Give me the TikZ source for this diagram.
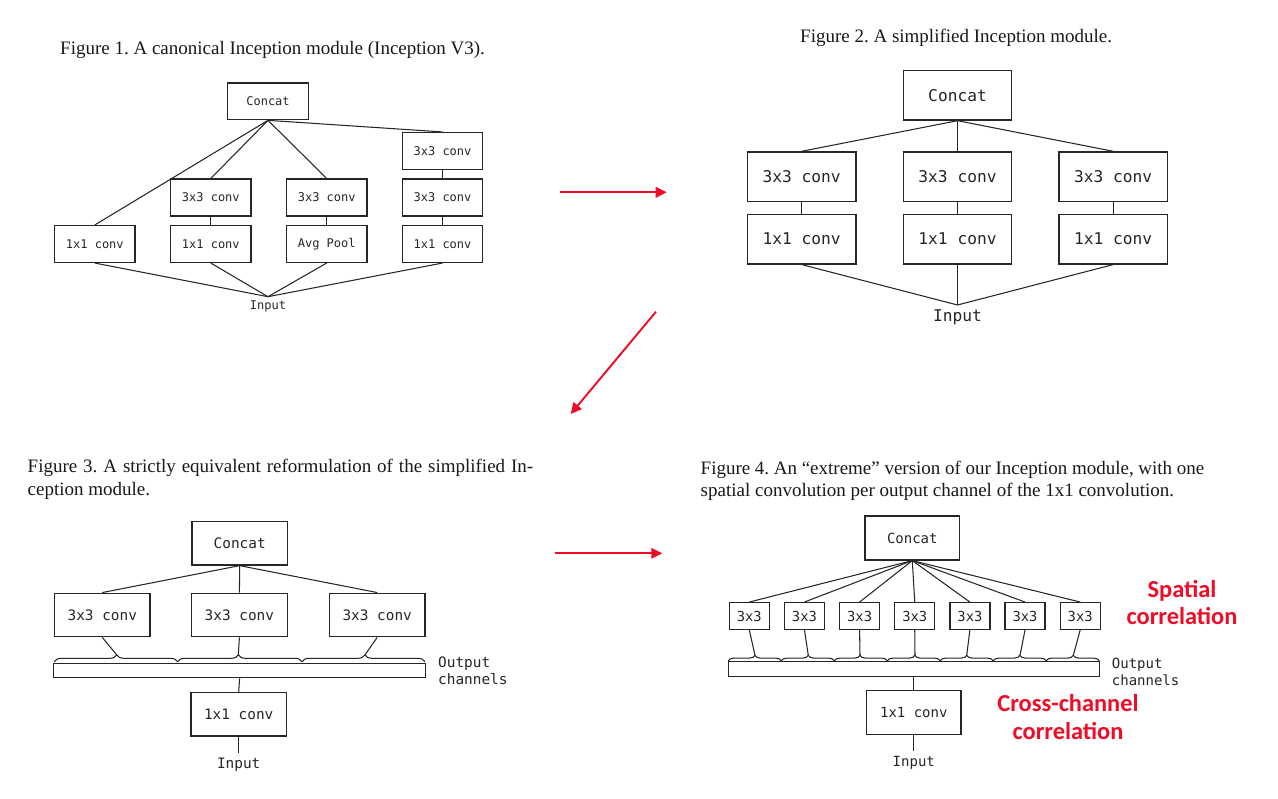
\documentclass[tikz,border=0pt]{standalone}
\usepackage{fontspec}
\setmainfont{Liberation Serif}
\newfontfamily\monofam{DejaVu Sans Mono}
\newfontfamily\notefam{Carlito}
\usetikzlibrary{arrows.meta,decorations.pathreplacing}
\definecolor{ink}{RGB}{38,38,38}
\definecolor{hilite}{RGB}{238,12,38}
\frenchspacing

\tikzset{
  unit/.style={draw=ink, line width=1.3pt, rectangle, inner sep=0pt, text=ink},
  link/.style={draw=ink, line width=1.05pt},
  wavy/.style={draw=ink, line width=1.05pt, decorate},
  caption/.style={inner sep=0pt, anchor=base west, text=black!90,
    font=\fontsize{19}{22.6}\selectfont},
  jump/.style={draw=hilite, line width=1.9pt, -{Triangle[length=11pt,width=10.5pt]}},
  note/.style={text=hilite, align=center, inner sep=0pt,
    font=\notefam\bfseries\fontsize{24.4}{27.5}\selectfont},
  % figure 1 (small boxes)
  figA/.style={unit, minimum width=80.4pt, minimum height=36.8pt,
    font=\monofam\fontsize{12}{14}\selectfont},
  inA/.style={anchor=north, inner xsep=0pt, inner ysep=3.5pt, text=ink,
    font=\monofam\fontsize{12}{14}\selectfont},
  % figure 2 (large boxes)
  figB/.style={unit, minimum width=108.3pt, minimum height=49.5pt,
    font=\monofam\fontsize{16.2}{18}\selectfont},
  inB/.style={anchor=north, inner xsep=0pt, inner ysep=4.5pt, text=ink,
    font=\monofam\fontsize{16.2}{18}\selectfont},
  % figure 3
  figC/.style={unit, minimum width=95.5pt, minimum height=43.6pt,
    font=\monofam\fontsize{14.4}{16}\selectfont},
  monoC/.style={inner sep=0pt, text=ink, align=left,
    font=\monofam\fontsize{14.4}{17}\selectfont},
  inC/.style={anchor=north, inner xsep=0pt, inner ysep=4.5pt, text=ink,
    font=\monofam\fontsize{14.4}{16}\selectfont},
  % figure 4
  figD/.style={unit, minimum width=94.5pt, minimum height=43.9pt,
    font=\monofam\fontsize{14}{16}\selectfont},
  figDs/.style={unit, minimum width=40pt, minimum height=26.6pt,
    font=\monofam\fontsize{13.8}{15}\selectfont},
  monoD/.style={inner sep=0pt, text=ink, align=left,
    font=\monofam\fontsize{14}{16.7}\selectfont},
  inD/.style={anchor=north, inner xsep=0pt, inner ysep=5.5pt, text=ink,
    font=\monofam\fontsize{14}{16}\selectfont},
  bar/.style={unit},
}

\begin{document}
\begin{tikzpicture}[x=1pt, y=-1pt]
\fill[white] (0,0) rectangle (1278,799);
\useasboundingbox (0,0) rectangle (1278,799);

% ---------------- Figure 1: canonical Inception module ----------------
\node[caption] (cap1) at (60,55) {Figure 1. A canonical Inception module (Inception V3).};
\node[figA] (f1cat) at (268,101.3) {Concat};
\node[figA] (f1a)  at (94.8,244)   {1x1 conv};
\node[figA] (f1b1) at (210.8,244)  {1x1 conv};
\node[figA] (f1b2) at (210.8,197.5){3x3 conv};
\node[figA] (f1c1) at (326.7,244)  {Avg Pool};
\node[figA] (f1c2) at (326.7,197.5){3x3 conv};
\node[figA] (f1d1) at (442.5,244)  {1x1 conv};
\node[figA] (f1d2) at (442.5,197.5){3x3 conv};
\node[figA] (f1d3) at (442.5,151)  {3x3 conv};
\node[inA]  (f1in) at (268,296.7)  {Input};
\foreach \t in {f1a,f1b2,f1c2,f1d3} \draw[link] (f1cat.south) -- (\t.north);
\draw[link] (f1b1) -- (f1b2);
\draw[link] (f1c1) -- (f1c2);
\draw[link] (f1d1) -- (f1d2);
\draw[link] (f1d2) -- (f1d3);
\foreach \s in {f1a,f1b1,f1c1,f1d1} \draw[link] (\s.south) -- (f1in.north);

% ---------------- Figure 2: simplified Inception module ----------------
\node[caption] (cap2) at (800,42.7) {Figure 2. A simplified Inception module.};
\node[figB] (f2cat) at (957.5,95.3)  {Concat};
\node[figB] (f2a2)  at (801.7,176.7) {3x3 conv};
\node[figB] (f2a1)  at (801.7,239.2) {1x1 conv};
\node[figB] (f2b2)  at (957.5,176.7) {3x3 conv};
\node[figB] (f2b1)  at (957.5,239.2) {1x1 conv};
\node[figB] (f2c2)  at (1113.2,176.7){3x3 conv};
\node[figB] (f2c1)  at (1113.2,239.2){1x1 conv};
\node[inB]  (f2in)  at (957.5,305)   {Input};
\foreach \c in {a,b,c} {
  \draw[link] (f2cat.south) -- (f2\c2.north);
  \draw[link] (f2\c1) -- (f2\c2);
  \draw[link] (f2\c1.south) -- (f2in.north);
}

% ---------------- Figure 3: equivalent reformulation ----------------
\node[caption, align=left] (cap3) at (27.5,495.3)
  {\makebox[505.5pt][s]{Figure 3. A strictly equivalent reformulation of the simplified In-}\\ception module.};
\node[figC] (f3cat) at (239.7,543.2) {Concat};
\node[figC] (f3a)   at (102.3,615)   {3x3 conv};
\node[figC] (f3b)   at (239.4,615)   {3x3 conv};
\node[figC] (f3c)   at (377.2,615)   {3x3 conv};
\node[bar, minimum width=372.3pt, minimum height=14.4pt] (f3bar) at (239.6,670.5) {};
\node[figC] (f3pw)  at (238.7,714.2) {1x1 conv};
\node[inC]  (f3in)  at (238.7,753.3) {Input};
\node[monoC, anchor=west] (f3out) at (438,670.8) {Output\\channels};
% channel groups resting on the output bar
\foreach \n/\sx/\ex/\tx/\asp in {a/54.2/177.6/116.7/0.507, b/177.6/302/238.3/0.488, c/302/425/365/0.512} {
  \draw[wavy, decoration={brace, amplitude=7pt, raise=1.5pt, aspect=\asp}] (\sx,663.3) -- (\ex,663.3);
  \coordinate (f3t\n) at (\tx,654.8);
  \draw[link] (f3cat.south) -- (f3\n.north);
  \draw[link] (f3\n.south) -- (f3t\n);
}
\draw[link] (f3bar.south) -- (f3pw.north);
\draw[link] (f3pw.south) -- (f3in.north);

% ---------------- Figure 4: extreme version ----------------
\node[caption, align=left] (cap4) at (700.5,496.7)
  {\makebox[503.6pt][s]{Figure 4. An “extreme” version of our Inception module, with one}\\spatial convolution per output channel of the 1x1 convolution.};
\node[figD] (f4cat) at (912.3,538) {Concat};
\node[bar, minimum width=371pt, minimum height=14.5pt] (f4bar) at (913.8,668.9) {};
\node[figD] (f4pw)  at (913.8,712.5) {1x1 conv};
\node[inD]  (f4in)  at (913.8,750.7) {Input};
\node[monoD, anchor=west] (f4out) at (1111.7,671.7) {Output\\channels};
\foreach \k/\tx/\asp in {1/755/0.504, 2/808.3/0.51, 3/860/0.485, 4/915/0.52,
                         5/966.7/0.5, 6/1020/0.5, 7/1073.3/0.51} {
  \pgfmathsetmacro{\bx}{749.3+55.15*(\k-1)}
  \pgfmathsetmacro{\sx}{728.3+53*(\k-1)}
  \pgfmathsetmacro{\ex}{\sx+53}
  \node[figDs] (f4s\k) at (\bx,616) {3x3};
  \draw[wavy, decoration={brace, amplitude=5.5pt, raise=0.8pt, aspect=\asp}] (\sx,661.65) -- (\ex,661.65);
  \coordinate (f4t\k) at (\tx,655.35);
  \draw[link] (f4cat.south) -- (f4s\k.north);
  \draw[link] (f4s\k.south) -- (f4t\k);
}
\draw[link] (f4bar.south) -- (f4pw.north);
\draw[link] (f4pw.south) -- (f4in.north);
\node[note] (sp) at (1182,602.5) {Spatial\\correlation};
\node[note] (cc) at (1068,717)   {Cross-channel\\correlation};

% ---------------- arrows between the figures ----------------
\coordinate (j1s) at (560,192.3);   \coordinate (j1e) at (666.7,192.3);
\coordinate (j2s) at (656,311.7);   \coordinate (j2e) at (570.7,414);
\coordinate (j3s) at (555,553.3);   \coordinate (j3e) at (662.3,553.3);
\draw[jump] (j1s) -- (j1e);
\draw[jump] (j2s) -- (j2e);
\draw[jump] (j3s) -- (j3e);
\end{tikzpicture}
\end{document}
